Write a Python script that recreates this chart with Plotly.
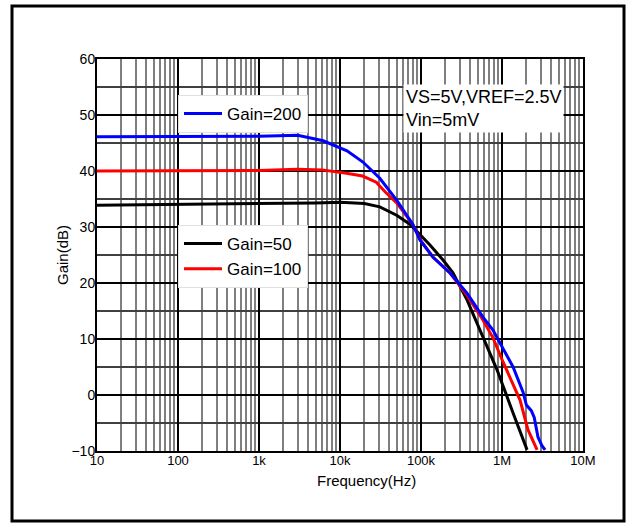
import plotly.graph_objects as go

# ---- data ----
freq_g50 = [10, 100, 1e3, 5e3, 1e4, 2e4, 3.1e4, 5e4, 7.3e4, 1e5, 1.29e5, 1.87e5, 2.48e5, 3.7e5, 5.35e5, 8.68e5, 1.37e6, 2.04e6]
gain_g50 = [33.9, 34.0, 34.1, 34.3, 34.4, 34.2, 33.6, 32.1, 30.5, 28.4, 26.8, 24.1, 21.8, 17.0, 11.6, 4.5, -3.2, -9.8]

freq_g100 = [10, 100, 1e3, 3e3, 6e3, 1.2e4, 1.9e4, 2.8e4, 3.6e4, 5e4, 7.9e4, 1e5, 1.41e5, 2.28e5, 3.7e5, 5.82e5, 7.74e5, 1.03e6, 1.67e6, 2.09e6, 2.71e6]
gain_g100 = [40.0, 40.0, 40.1, 40.3, 40.2, 39.6, 39.1, 38.0, 36.3, 34.3, 30.5, 27.5, 24.6, 21.8, 17.8, 13.4, 10.2, 5.9, -0.9, -6.2, -9.8]

freq_g200 = [10, 100, 1e3, 3e3, 6.2e3, 1.22e4, 1.92e4, 3.1e4, 5e4, 7.9e4, 9.7e4, 1.41e5, 2.28e5, 3.7e5, 5.82e5, 7.74e5, 1.03e6, 1.37e6, 1.82e6, 2.0e6, 2.3e6, 2.5e6, 2.78e6, 3.1e6, 3.4e6]
gain_g200 = [46.1, 46.1, 46.2, 46.4, 45.4, 43.6, 41.6, 38.7, 34.8, 30.5, 27.7, 24.6, 21.8, 18.2, 13.9, 11.6, 8.4, 5.0, 0.5, -1.8, -2.8, -4.0, -7.5, -9.0, -9.8]

x_tick_vals = [10, 100, 1e3, 1e4, 1e5, 1e6, 1e7]
x_tick_text = ["10", "100", "1k", "10k", "100k", "1M", "10M"]
y_tick_vals = [-10, 0, 10, 20, 30, 40, 50, 60]

FONT = "Arial, Liberation Sans, sans-serif"

minor_x = [m * 10 ** d for d in range(1, 7) for m in range(2, 10)]

fig = go.Figure()
fig.add_trace(go.Scatter(x=freq_g50, y=gain_g50, mode="lines", name="Gain=50",
                         line=dict(color="black", width=3), legend="legend"))
fig.add_trace(go.Scatter(x=freq_g100, y=gain_g100, mode="lines", name="Gain=100",
                         line=dict(color="#ff0000", width=3), legend="legend"))
fig.add_trace(go.Scatter(x=freq_g200, y=gain_g200, mode="lines", name="Gain=200",
                         line=dict(color="#0000ff", width=3), legend="legend2"))

L, R, T, B = 97, 52, 59, 78
W, H = 635, 529
pw, ph = W - L - R, H - T - B

def px(xp):
    return (xp - L) / pw

def py(yp):
    return (H - B - yp) / ph

fig.update_layout(
    width=W, height=H,
    margin=dict(l=L, r=R, t=T, b=B),
    paper_bgcolor="white", plot_bgcolor="white",
    font=dict(family=FONT, color="black", size=13),
    legend=dict(x=px(178), y=py(225), xanchor="left", yanchor="top",
                bgcolor="white", bordercolor="#e0e0e0", borderwidth=1,
                font=dict(size=17, family=FONT), tracegroupgap=0, itemwidth=38),
    legend2=dict(x=px(178), y=py(95), xanchor="left", yanchor="top",
                 bgcolor="white", bordercolor="#e0e0e0", borderwidth=1,
                 font=dict(size=17, family=FONT), itemwidth=38),
    showlegend=True,
)

fig.update_xaxes(
    type="log", range=[1, 7],
    tickmode="array", tickvals=x_tick_vals, ticktext=x_tick_text,
    showgrid=True, gridcolor="black", gridwidth=1.5,
    minor=dict(tickmode="array", tickvals=minor_x, showgrid=True,
               gridcolor="#7f7f7f", gridwidth=2),
    showline=True, linecolor="black", linewidth=2, mirror=True,
    ticks="", tickfont=dict(size=13, family=FONT), zeroline=False,
    ticklabelstandoff=-4,
)
fig.update_yaxes(
    range=[-10, 60], tickmode="array", tickvals=y_tick_vals,
    showgrid=True, gridcolor="black", gridwidth=1.5,
    minor=dict(dtick=5, tick0=0, showgrid=True, gridcolor="#404040", gridwidth=1.5),
    showline=True, linecolor="black", linewidth=2, mirror=True,
    ticks="", tickfont=dict(size=14, family=FONT), zeroline=False,
    ticklabelstandoff=-3,
)

fig.add_annotation(x=px(62), y=0.5, xref="paper", yref="paper",
                   xanchor="center", yanchor="middle",
                   text="Gain(dB)", textangle=-90, showarrow=False,
                   font=dict(size=15, family=FONT))
fig.add_annotation(x=px(366), y=py(480), xref="paper", yref="paper",
                   xanchor="center", yanchor="middle",
                   text="Frequency(Hz)", showarrow=False,
                   font=dict(size=15, family=FONT))
fig.add_annotation(x=px(403), y=py(84), xref="paper", yref="paper",
                   xanchor="left", yanchor="top", align="left",
                   text="VS=5V,VREF=2.5V<br>Vin=5mV", showarrow=False,
                   bgcolor="white", borderpad=2,
                   font=dict(size=18, family=FONT))

fig.add_shape(type="rect", xref="paper", yref="paper",
              x0=px(12), x1=px(624), y0=py(521), y1=py(6),
              line=dict(color="black", width=3), layer="above")

fig.write_html("out.html", config={"displayModeBar": False},
               post_script="document.body.style.margin='0px';document.body.style.overflow='hidden';")
